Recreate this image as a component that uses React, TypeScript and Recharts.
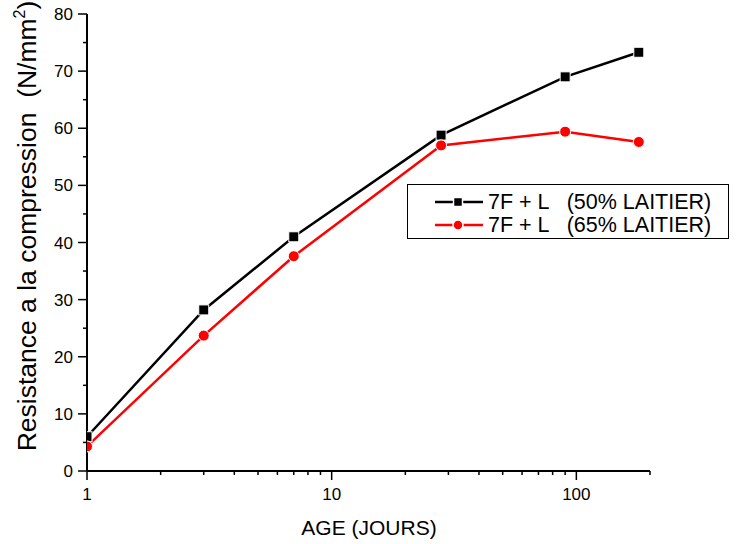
import React from "react";
import { LineChart, Line, XAxis, YAxis } from "recharts";

const ages = [1, 3, 7, 28, 90, 180];
const series50 = [6.0, 28.2, 41.0, 58.8, 69.0, 73.3];
const series65 = [4.3, 23.7, 37.6, 57.0, 59.4, 57.6];
const seriesNames = ["7F + L   (50% LAITIER)", "7F + L   (65% LAITIER)"];
const xTicks = [1, 2, 3, 4, 5, 6, 7, 8, 9, 10, 20, 30, 40, 50, 60, 70, 80, 90, 100, 200];
const xLabels = [1, 10, 100];
const yTicks = [0, 5, 10, 15, 20, 25, 30, 35, 40, 45, 50, 55, 60, 65, 70, 75, 80];

const data = ages.map((a, i) => ({ age: a, s50: series50[i], s65: series65[i] }));

const FONT = "'Liberation Sans', Arial, sans-serif";

const XTick = (props: any) => {
  const { x, y, payload } = props;
  const major = xLabels.includes(payload.value);
  return (
    <g>
      <line x1={x} x2={x} y1={y} y2={y + (major ? 9 : 4)} stroke="#000" strokeWidth={1.5} />
      {major && (
        <text x={x} y={y + 29} textAnchor="middle" fontSize={17} fontFamily={FONT} fill="#000">
          {payload.value}
        </text>
      )}
    </g>
  );
};

const YTick = (props: any) => {
  const { x, y, payload } = props;
  const major = payload.value % 10 === 0;
  return (
    <g>
      <line x1={x - (major ? 9 : 4)} x2={x} y1={y} y2={y} stroke="#000" strokeWidth={1.5} />
      {major && (
        <text x={x - 14} y={y + 6} textAnchor="end" fontSize={17} fontFamily={FONT} fill="#000">
          {payload.value}
        </text>
      )}
    </g>
  );
};

const SquareDot = (props: any) => {
  const { cx, cy } = props;
  if (cx == null || cy == null) return null;
  return <rect x={cx - 5} y={cy - 5} width={10} height={10} fill="#000" stroke="#fff" strokeWidth={1} />;
};

const CircleDot = (props: any) => {
  const { cx, cy } = props;
  if (cx == null || cy == null) return null;
  return <circle cx={cx} cy={cy} r={5.5} fill="#ff0000" stroke="#fff" strokeWidth={1} />;
};

const YTitle = () => (
  <text
    transform="translate(36,226) rotate(-90)"
    textAnchor="middle"
    fontSize={26.5}
    fontFamily={FONT}
    fill="#000"
    style={{ whiteSpace: "pre" }}
  >
    {"Resistance a la compression  (N/mm"}
    <tspan fontSize={16} dy={-11}>2</tspan>
    <tspan dy={11}>)</tspan>
  </text>
);

const XTitle = () => (
  <text x={369} y={535} textAnchor="middle" fontSize={21} fontFamily={FONT} fill="#000">
    AGE (JOURS)
  </text>
);

const LegendBox = () => {
  const colors = ["#000", "#ff0000"];
  return (
    <div
      style={{
        position: "absolute",
        left: 407,
        top: 184,
        width: 322,
        height: 55,
        border: "1px solid #000",
        background: "#fff",
        fontFamily: FONT,
        fontSize: 21.5,
        boxSizing: "border-box",
      }}
    >
      {seriesNames.map((n, i) => (
        <div
          key={n}
          style={{ position: "absolute", left: 27, top: i === 0 ? 6 : 29, height: 22, display: "flex", alignItems: "center", whiteSpace: "pre" }}
        >
          <svg width={50} height={20} style={{ marginRight: 3 }}>
            <line x1={0} x2={48} y1={10} y2={10} stroke={colors[i]} strokeWidth={2.5} />
            {i === 0 ? (
              <rect x={18.5} y={5.5} width={9} height={9} fill="#000" stroke="#fff" strokeWidth={1.5} />
            ) : (
              <circle cx={23} cy={10} r={5} fill="#ff0000" stroke="#fff" strokeWidth={1.5} />
            )}
          </svg>
          <span>{n}</span>
        </div>
      ))}
    </div>
  );
};

export default function App() {
  return (
    <div style={{ position: "absolute", left: 0, top: 0, width: 739, height: 544, background: "#fff" }}>
      <LineChart width={739} height={544} data={data} margin={{ top: 14, right: 89, bottom: 0, left: 0 }}>
        <XAxis
          dataKey="age"
          type="number"
          scale="log"
          domain={[1, 200]}
          ticks={xTicks}
          interval={0}
          allowDataOverflow
          height={73}
          tickLine={false}
          tickSize={0}
          tickMargin={0}
          axisLine={{ stroke: "#000", strokeWidth: 2 }}
          tick={<XTick />}
          label={<XTitle />}
        />
        <YAxis
          type="number"
          domain={[0, 80]}
          ticks={yTicks}
          interval={0}
          width={87}
          tickLine={false}
          tickSize={0}
          tickMargin={0}
          axisLine={{ stroke: "#000", strokeWidth: 2 }}
          tick={<YTick />}
          label={<YTitle />}
        />
        <Line
          dataKey="s50"
          name={seriesNames[0]}
          stroke="#000"
          strokeWidth={2.5}
          dot={<SquareDot />}
          activeDot={false}
          isAnimationActive={false}
        />
        <Line
          dataKey="s65"
          name={seriesNames[1]}
          stroke="#ff0000"
          strokeWidth={2.5}
          dot={<CircleDot />}
          activeDot={false}
          isAnimationActive={false}
        />
      </LineChart>
      <LegendBox />
    </div>
  );
}
